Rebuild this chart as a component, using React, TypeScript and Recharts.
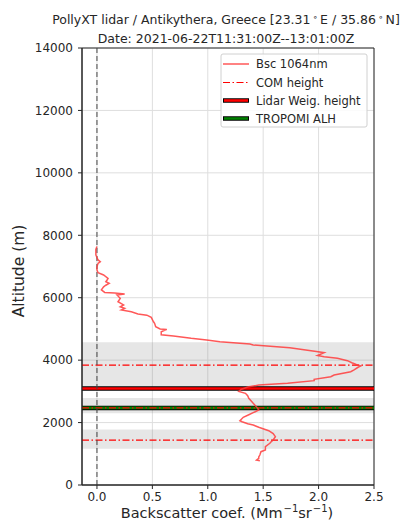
import React from 'react';
import {
  ComposedChart,
  Scatter,
  XAxis,
  YAxis,
  CartesianGrid,
  ReferenceArea,
  ReferenceLine
} from 'recharts';

// backscatter profile, read top to bottom
const altitudes = [
  7640, 7550, 7370, 7210, 7155, 7100, 6990, 6890, 6800, 6730, 6620, 6560, 6510, 6460, 6400,
  6350, 6250, 6170, 6150, 6120, 6090, 5980, 5870, 5770, 5710, 5660, 5610, 5550, 5480, 5440,
  5370, 5230, 5180, 5070, 5000, 4985, 4910, 4810, 4775, 4700, 4646, 4590, 4518, 4486, 4400,
  4280, 4240, 4150, 4111, 4059, 3983, 3918, 3860, 3813, 3780, 3685, 3630, 3524, 3470, 3387,
  3342, 3258, 3200, 3140, 3060, 3000, 2938, 2860, 2778, 2700, 2618, 2540, 2457, 2403, 2317,
  2250, 2169, 2060, 2028, 1960, 1922, 1850, 1740, 1650, 1548, 1442, 1380, 1336, 1227, 1121,
  1067, 961, 900, 855, 800, 780
];
const bsc1064 = [
  0.0, -0.01, -0.01, 0.01, 0.03, 0.01, 0.0, 0.0, 0.01, 0.06, 0.1, 0.09, 0.08, 0.11, 0.08,
  0.06, 0.04, 0.07, 0.16, 0.25, 0.18, 0.21, 0.19, 0.24, 0.21, 0.25, 0.22, 0.31, 0.37, 0.45,
  0.49, 0.51, 0.52, 0.53, 0.57, 0.63, 0.58, 0.58, 0.69, 0.85, 0.99, 1.11, 1.38, 1.41, 1.74,
  1.98, 2.05, 1.99, 2.05, 2.17, 2.26, 2.3, 2.34, 2.38, 2.36, 2.32, 2.29, 2.14, 2.11, 1.96,
  1.96, 1.72, 1.46, 1.36, 1.3, 1.28, 1.34, 1.36, 1.37, 1.39, 1.41, 1.43, 1.45, 1.46, 1.41,
  1.37, 1.32, 1.29, 1.31, 1.36, 1.41, 1.46, 1.55, 1.59, 1.61, 1.59, 1.57, 1.56, 1.52, 1.52,
  1.48, 1.47, 1.46, 1.46, 1.44, 1.47
];

const layerBottoms = [3050, 2300, 1160];
const layerTops = [4570, 2790, 1780];
const comHeights = [3840, 2470, 1440];
const lidarWeigHeight = 3090;
const tropomiAlh = 2470;

const xTicks = [0, 0.5, 1, 1.5, 2, 2.5];
const yTicks = [0, 2000, 4000, 6000, 8000, 10000, 12000, 14000];

const profile = altitudes.map((alt, i) => ({ alt, bsc: bsc1064[i] }));

const FONT = '"DejaVu Sans", sans-serif';
const TEXT = '#262626';
const DASHDOT = '7 2.5 1.5 2.5';

const LegendBox = () => {
  const x0 = 221;
  const y0 = 54;
  const rows = [64, 82.5, 100.5, 118.5];
  return (
    <g>
      <rect x={x0} y={y0} width={146} height={73} rx={2} fill="white" fillOpacity={0.85} stroke="#d0d0d0" />
      <line x1={223} x2={249} y1={rows[0]} y2={rows[0]} stroke="#ff3b3b" strokeOpacity={0.85} strokeWidth={1.5} />
      <line x1={223} x2={249} y1={rows[1]} y2={rows[1]} stroke="red" strokeWidth={1.2} strokeDasharray={DASHDOT} />
      <line x1={223} x2={249} y1={rows[2]} y2={rows[2]} stroke="black" strokeWidth={4.5} />
      <line x1={224} x2={248} y1={rows[2]} y2={rows[2]} stroke="red" strokeWidth={2.6} />
      <line x1={223} x2={249} y1={rows[3]} y2={rows[3]} stroke="black" strokeWidth={4.5} />
      <line x1={224} x2={248} y1={rows[3]} y2={rows[3]} stroke="green" strokeWidth={2.6} />
      {['Bsc 1064nm', 'COM height', 'Lidar Weig. height', 'TROPOMI ALH'].map((t, i) => (
        <text key={t} x={256} y={rows[i] + 4} fontSize={11.5} fill={TEXT} fontFamily={FONT}>
          {t}
        </text>
      ))}
    </g>
  );
};

export default function App() {
  return (
    <div style={{ position: 'absolute', left: 0, top: 0, width: 401, height: 530, background: 'white', fontFamily: FONT }}>
      <ComposedChart
        width={401}
        height={530}
        margin={{ top: 48, right: 27, bottom: 0, left: 0 }}
      >
        <CartesianGrid stroke="#dedede" strokeWidth={1} />
        <XAxis
          type="number"
          dataKey="bsc"
          domain={[-0.135, 2.5]}
          ticks={xTicks}
          tickFormatter={(v: number) => v.toFixed(1)}
          allowDataOverflow
          height={45}
          tickSize={4}
          tickMargin={3}
          stroke={TEXT}
          tick={{ fill: TEXT, fontSize: 12, fontFamily: FONT }}
        />
        <YAxis
          type="number"
          dataKey="alt"
          domain={[0, 14000]}
          ticks={yTicks}
          allowDataOverflow
          width={82}
          tickSize={4}
          tickMargin={5}
          stroke={TEXT}
          tick={{ fill: TEXT, fontSize: 12, fontFamily: FONT }}
        />
        {layerBottoms.map((b, i) => (
          <ReferenceArea key={'band' + i} y1={b} y2={layerTops[i]} x1={-0.135} x2={2.5} fill="#808080" fillOpacity={0.2} stroke="none" />
        ))}
        <Scatter
          data={profile}
          isAnimationActive={false}
          fill="#ff3b3b"
          line={{ stroke: '#ff3b3b', strokeWidth: 1.5, strokeOpacity: 0.85 }}
          lineType="joint"
          shape={() => <g />}
        />
        <ReferenceLine y={lidarWeigHeight} stroke="black" strokeWidth={4.5} />
        <ReferenceLine y={lidarWeigHeight} stroke="red" strokeWidth={2.6} />
        <ReferenceLine y={tropomiAlh} stroke="black" strokeWidth={4.5} />
        <ReferenceLine y={tropomiAlh} stroke="green" strokeWidth={2.6} />
        {comHeights.map((h) => (
          <ReferenceLine key={'com' + h} y={h} stroke="red" strokeWidth={1.2} strokeDasharray={DASHDOT} />
        ))}
        <ReferenceLine x={0} stroke="#444" strokeWidth={1} strokeDasharray="5 3" />
        <ReferenceArea x1={-0.135} x2={2.5} y1={0} y2={14000} fill="none" stroke={TEXT} strokeWidth={1} />
      </ComposedChart>
      <svg width={401} height={530} style={{ position: 'absolute', left: 0, top: 0, pointerEvents: 'none' }}>
        <text x={226} y={24} textAnchor="middle" fontSize={12.5} fill={TEXT} fontFamily={FONT}>
          PollyXT lidar / Antikythera, Greece [23.31
          <tspan fontSize={9} dx={2} dy={-4}>∘</tspan>
          <tspan dx={2} dy={4}>E / 35.86</tspan>
          <tspan fontSize={9} dx={2} dy={-4}>∘</tspan>
          <tspan dx={2} dy={4}>N]</tspan>
        </text>
        <text x={226} y={43} textAnchor="middle" fontSize={12.5} fill={TEXT} fontFamily={FONT}>
          Date: 2021-06-22T11:31:00Z--13:01:00Z
        </text>
        <text
          x={0}
          y={0}
          transform="translate(24 271) rotate(-90)"
          textAnchor="middle"
          fontSize={15.5}
          fill={TEXT}
          fontFamily={FONT}
        >
          Altitude (m)
        </text>
        <text x={227} y={518} textAnchor="middle" fontSize={14.5} fill={TEXT} fontFamily={FONT}>
          Backscatter coef. (Mm
          <tspan fontSize={10} dx={1} dy={-6}>−1</tspan>
          <tspan dy={6}>sr</tspan>
          <tspan fontSize={10} dx={1} dy={-6}>−1</tspan>
          <tspan dy={6}>)</tspan>
        </text>
        <LegendBox />
      </svg>
    </div>
  );
}
